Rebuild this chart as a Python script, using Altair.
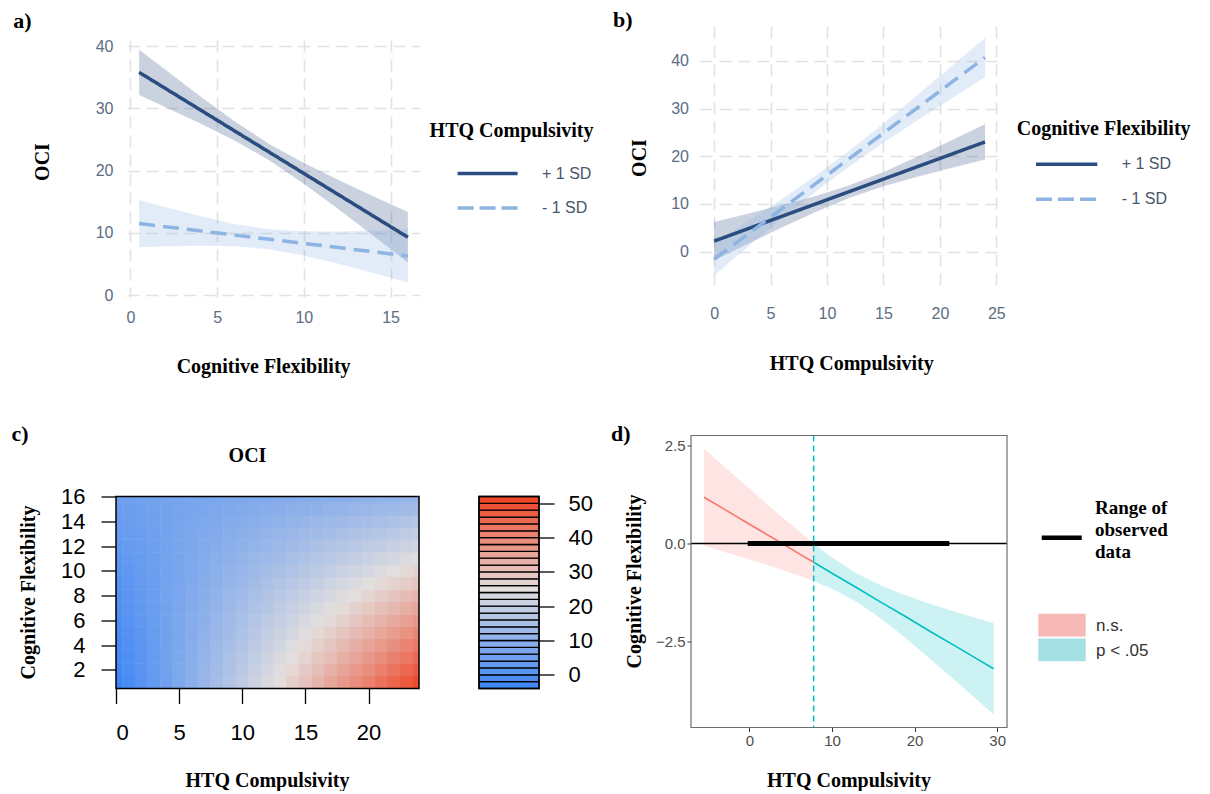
import altair as alt
import pandas as pd

SERIF = "Liberation Serif"
SANS = "Liberation Sans"
DARK = "#2b4c7e"
LIGHT = "#8db4e2"
SLATE = "#5c6c82"

# ---------------- Panel a: OCI vs Cognitive Flexibility ----------------
a_cf = [0.5, 2, 4, 6, 8, 10, 12, 14, 16]
a_hi_fit = [35.80, 33.24, 29.82, 26.40, 22.98, 19.56, 16.14, 12.72, 9.30]
a_hi_upper = [39.45, 36.24, 32.02, 27.95, 24.28, 21.22, 18.49, 15.89, 13.34]
a_hi_lower = [32.15, 30.24, 27.62, 24.85, 21.68, 17.90, 13.79, 9.55, 5.26]
a_lo_fit = [11.50, 11.00, 10.33, 9.66, 8.98, 8.31, 7.64, 6.97, 6.30]
a_lo_upper = [15.29, 14.16, 12.71, 11.45, 10.59, 10.25, 10.24, 10.38, 10.58]
a_lo_lower = [7.71, 7.84, 7.95, 7.87, 7.37, 6.37, 5.04, 3.56, 2.02]
a_xticks = [0, 5, 10, 15]
a_yticks = [0, 10, 20, 30, 40]

# ---------------- Panel b: OCI vs HTQ Compulsivity ----------------
b_htq = [0, 3, 6, 9, 12, 15, 18, 21, 24]
b_hi_fit = [2.20, 4.80, 7.40, 10.00, 12.60, 15.20, 17.80, 20.40, 23.00]
b_hi_upper = [6.20, 7.96, 9.76, 11.68, 13.91, 16.70, 19.90, 23.27, 26.70]
b_hi_lower = [-1.80, 1.64, 5.04, 8.32, 11.29, 13.70, 15.70, 17.53, 19.30]
b_lo_fit = [-1.60, 3.69, 8.98, 14.26, 19.55, 24.84, 30.13, 35.41, 40.70]
b_lo_upper = [1.80, 6.37, 11.04, 15.92, 21.20, 26.88, 32.79, 38.79, 44.85]
b_lo_lower = [-5.00, 1.01, 6.92, 12.60, 17.90, 22.80, 27.47, 32.03, 36.55]
b_xticks = [0, 5, 10, 15, 20, 25]
b_yticks = [0, 10, 20, 30, 40]

groups = ["+ 1 SD", "- 1 SD"]

# ---------------- Panel c: OCI surface ----------------
c_htq = [0, 1, 2, 3, 4, 5, 6, 7, 8, 9, 10, 11, 12, 13, 14, 15, 16, 17, 18, 19, 20, 21, 22, 23, 24]
c_cf = [1, 2, 3, 4, 5, 6, 7, 8, 9, 10, 11, 12, 13, 14, 15, 16]
c_oci = [
    [-3.6, -1.4, 0.9, 3.1, 5.3, 7.6, 9.8, 12.0, 14.3, 16.5, 18.7, 21.0, 23.2, 25.4, 27.7, 29.9, 32.1, 34.4, 36.6, 38.8, 41.1, 43.3, 45.5, 47.7, 50.0],
    [-3.0, -0.9, 1.2, 3.3, 5.4, 7.5, 9.6, 11.7, 13.8, 15.9, 18.0, 20.1, 22.2, 24.3, 26.4, 28.5, 30.6, 32.7, 34.8, 36.9, 39.0, 41.1, 43.2, 45.3, 47.4],
    [-2.5, -0.5, 1.5, 3.4, 5.4, 7.4, 9.3, 11.3, 13.3, 15.3, 17.2, 19.2, 21.2, 23.2, 25.1, 27.1, 29.1, 31.0, 33.0, 35.0, 37.0, 38.9, 40.9, 42.9, 44.8],
    [-1.9, -0.1, 1.8, 3.6, 5.4, 7.3, 9.1, 11.0, 12.8, 14.6, 16.5, 18.3, 20.2, 22.0, 23.9, 25.7, 27.5, 29.4, 31.2, 33.1, 34.9, 36.8, 38.6, 40.4, 42.3],
    [-1.4, 0.3, 2.0, 3.8, 5.5, 7.2, 8.9, 10.6, 12.3, 14.0, 15.7, 17.5, 19.2, 20.9, 22.6, 24.3, 26.0, 27.7, 29.4, 31.1, 32.9, 34.6, 36.3, 38.0, 39.7],
    [-0.8, 0.8, 2.3, 3.9, 5.5, 7.1, 8.7, 10.2, 11.8, 13.4, 15.0, 16.6, 18.2, 19.7, 21.3, 22.9, 24.5, 26.1, 27.6, 29.2, 30.8, 32.4, 34.0, 35.6, 37.1],
    [-0.3, 1.2, 2.6, 4.1, 5.5, 7.0, 8.4, 9.9, 11.3, 12.8, 14.2, 15.7, 17.1, 18.6, 20.1, 21.5, 23.0, 24.4, 25.9, 27.3, 28.8, 30.2, 31.7, 33.1, 34.6],
    [0.3, 1.6, 2.9, 4.2, 5.6, 6.9, 8.2, 9.5, 10.9, 12.2, 13.5, 14.8, 16.1, 17.5, 18.8, 20.1, 21.4, 22.8, 24.1, 25.4, 26.7, 28.0, 29.4, 30.7, 32.0],
    [0.8, 2.0, 3.2, 4.4, 5.6, 6.8, 8.0, 9.2, 10.4, 11.6, 12.7, 13.9, 15.1, 16.3, 17.5, 18.7, 19.9, 21.1, 22.3, 23.5, 24.7, 25.9, 27.1, 28.2, 29.4],
    [1.4, 2.4, 3.5, 4.6, 5.6, 6.7, 7.8, 8.8, 9.9, 10.9, 12.0, 13.1, 14.1, 15.2, 16.2, 17.3, 18.4, 19.4, 20.5, 21.6, 22.6, 23.7, 24.7, 25.8, 26.9],
    [1.9, 2.9, 3.8, 4.7, 5.7, 6.6, 7.5, 8.5, 9.4, 10.3, 11.3, 12.2, 13.1, 14.0, 15.0, 15.9, 16.8, 17.8, 18.7, 19.6, 20.6, 21.5, 22.4, 23.4, 24.3],
    [2.5, 3.3, 4.1, 4.9, 5.7, 6.5, 7.3, 8.1, 8.9, 9.7, 10.5, 11.3, 12.1, 12.9, 13.7, 14.5, 15.3, 16.1, 16.9, 17.7, 18.5, 19.3, 20.1, 20.9, 21.7],
    [3.0, 3.7, 4.4, 5.1, 5.7, 6.4, 7.1, 7.7, 8.4, 9.1, 9.8, 10.4, 11.1, 11.8, 12.4, 13.1, 13.8, 14.5, 15.1, 15.8, 16.5, 17.1, 17.8, 18.5, 19.2],
    [3.6, 4.1, 4.7, 5.2, 5.8, 6.3, 6.8, 7.4, 7.9, 8.5, 9.0, 9.6, 10.1, 10.6, 11.2, 11.7, 12.3, 12.8, 13.3, 13.9, 14.4, 15.0, 15.5, 16.1, 16.6],
    [4.1, 4.6, 5.0, 5.4, 5.8, 6.2, 6.6, 7.0, 7.4, 7.8, 8.3, 8.7, 9.1, 9.5, 9.9, 10.3, 10.7, 11.1, 11.6, 12.0, 12.4, 12.8, 13.2, 13.6, 14.0],
    [4.7, 5.0, 5.3, 5.5, 5.8, 6.1, 6.4, 6.7, 6.9, 7.2, 7.5, 7.8, 8.1, 8.4, 8.6, 8.9, 9.2, 9.5, 9.8, 10.1, 10.3, 10.6, 10.9, 11.2, 11.5],
]
c_xticks = [0, 5, 10, 15, 20]
c_yticks = [2, 4, 6, 8, 10, 12, 14, 16]
cb_levels = [-4, -2, 0, 2, 4, 6, 8, 10, 12, 14, 16, 18, 20, 22, 24, 26, 28, 30,
             32, 34, 36, 38, 40, 42, 44, 46, 48, 50]
cb_ticks = [0, 10, 20, 30, 40, 50]

# ---------------- Panel d: Johnson-Neyman plot ----------------
d_ns_x = [-5.5, -3, 0, 3, 6, 7.78]
d_ns_fit = [1.18, 0.87, 0.49, 0.12, -0.26, -0.48]
d_ns_upper = [2.42, 1.95, 1.40, 0.84, 0.31, 0.00]
d_ns_lower = [-0.06, -0.22, -0.41, -0.61, -0.82, -0.96]
d_sig_x = [7.78, 10, 13, 16, 19, 22, 25, 27.5, 29.57]
d_sig_fit = [-0.48, -0.76, -1.13, -1.51, -1.88, -2.26, -2.63, -2.94, -3.20]
d_sig_upper = [0.00, -0.36, -0.77, -1.08, -1.33, -1.55, -1.75, -1.91, -2.04]
d_sig_lower = [-0.96, -1.16, -1.49, -1.93, -2.43, -2.97, -3.52, -3.98, -4.37]
d_obs_range = [-0.2, 24.2]
d_jn_point = 7.78
d_xticks = [0, 10, 20, 30]
d_yticks = [-2.5, 0, 2.5]
d_groups = ["n.s.", "p < .05"]


# ---------------- helpers ----------------
def one():
    return pd.DataFrame({"z": [0]})


def txt(s, x, y, size=20, bold=True, serif=True, angle=0, align="left", color="black"):
    return alt.Chart(pd.DataFrame({"t": [s]})).mark_text(
        align=align, baseline="middle", fontSize=size,
        fontWeight="bold" if bold else "normal",
        font=SERIF if serif else SANS, angle=angle, color=color,
    ).encode(x=alt.value(x), y=alt.value(y), text="t:N")


def hrule(x1, x2, y, color, width, dash=None):
    kw = {"strokeDash": dash} if dash else {}
    return alt.Chart(one()).mark_rule(color=color, strokeWidth=width, **kw).encode(
        x=alt.value(x1), x2=alt.value(x2), y=alt.value(y))


def box(x1, x2, y1, y2, fill=None, stroke=None, sw=0.0):
    kw = {}
    if fill:
        kw["fill"] = fill
    else:
        kw["fillOpacity"] = 0
    if stroke:
        kw["stroke"] = stroke
        kw["strokeWidth"] = sw
    return alt.Chart(one()).mark_rect(**kw).encode(
        x=alt.value(x1), x2=alt.value(x2), y=alt.value(y1), y2=alt.value(y2))


def spacer(w, h):
    return alt.Chart(one()).mark_point(opacity=0, size=1).encode(
        x=alt.value(0), y=alt.value(0)).properties(width=w, height=h)


def band_df(xs, fit, up, lo, grp):
    return pd.DataFrame({"x": xs, "fit": fit, "upper": up, "lower": lo, "group": grp})


def ab_axis(vals, pad):
    return alt.Axis(values=vals, title=None, domain=False, ticks=False, tickSize=0,
                    labelPadding=pad, labelFont=SANS, labelFontSize=16, labelColor=SLATE,
                    grid=True, gridDash=[12, 7], gridColor="#e2e2e2", gridWidth=1.6)


grp_color = alt.Scale(domain=groups, range=[DARK, LIGHT])
grp_dash = alt.Scale(domain=groups, range=[[1, 0], [16, 8]])


def ab_panel(df, xdom, ydom, xvals, yvals, xpad, ypad):
    xs = alt.Scale(domain=xdom, nice=False, zero=False)
    ys = alt.Scale(domain=ydom, nice=False, zero=False)
    bands = alt.Chart(df).mark_area(opacity=0.25).encode(
        x=alt.X("x:Q", scale=xs, axis=ab_axis(xvals, xpad)),
        y=alt.Y("upper:Q", scale=ys, axis=ab_axis(yvals, ypad)),
        y2="lower:Q",
        color=alt.Color("group:N", scale=grp_color, legend=None),
    )
    lines = alt.Chart(df).mark_line(strokeWidth=3.5).encode(
        x=alt.X("x:Q", scale=xs, axis=ab_axis(xvals, xpad)),
        y=alt.Y("fit:Q", scale=ys, axis=ab_axis(yvals, ypad)),
        color=alt.Color("group:N", scale=grp_color, legend=None),
        strokeDash=alt.StrokeDash("group:N", scale=grp_dash, legend=None),
    )
    return bands, lines


# ---------------- panel a ----------------
a_df = pd.concat([
    band_df(a_cf, a_hi_fit, a_hi_upper, a_hi_lower, groups[0]),
    band_df(a_cf, a_lo_fit, a_lo_upper, a_lo_lower, groups[1]),
])
AW, AH = 293, 257
a_bands, a_lines = ab_panel(a_df, [-0.2, 16.7], [-0.3, 41], a_xticks, a_yticks, 12, 14)
panel_a = alt.layer(
    a_bands, a_lines,
    hrule(-118.7, -117.7, -30.1, "white", 0.01),
    txt("a)", -113.7, -19.5, size=22),
    txt("OCI", -84, 122, angle=270, align="center"),
    txt("Cognitive Flexibility", 136.6, 326.9, align="center"),
    txt("HTQ Compulsivity", 302.6, 91.2),
    hrule(330.6, 390.6, 133.6, DARK, 3.5),
    hrule(330.6, 390.6, 167.9, LIGHT, 3.5, dash=[16, 6]),
    txt(groups[0], 415, 133.6, size=16, bold=False, serif=False, color="#4a5568"),
    txt(groups[1], 415, 167.9, size=16, bold=False, serif=False, color="#4a5568"),
).properties(width=AW, height=AH)

# ---------------- panel b ----------------
b_df = pd.concat([
    band_df(b_htq, b_hi_fit, b_hi_upper, b_hi_lower, groups[0]),
    band_df(b_htq, b_lo_fit, b_lo_upper, b_lo_lower, groups[1]),
])
BW, BH = 298, 263.3
b_bands, b_lines = ab_panel(b_df, [-1.25, 25.15], [-7.9, 47.3], b_xticks, b_yticks, 16, 11.5)
panel_b = alt.layer(
    b_bands, b_lines,
    txt("b)", -87, -6.5, size=22),
    txt("OCI", -60, 132, angle=270, align="center"),
    txt("HTQ Compulsivity", 151.7, 338, align="center"),
    txt("Cognitive Flexibility", 316.7, 103.3),
    hrule(336, 397.3, 138.3, DARK, 3.5),
    hrule(336, 397.3, 173.3, LIGHT, 3.5, dash=[16, 6]),
    txt(groups[0], 421.7, 138.3, size=16, bold=False, serif=False, color="#4a5568"),
    txt(groups[1], 421.7, 173.3, size=16, bold=False, serif=False, color="#4a5568"),
).properties(width=BW, height=BH)

# ---------------- panel c ----------------
c_records = []
for i, cf in enumerate(c_cf):
    for j, h in enumerate(c_htq):
        c_records.append({"htq": h, "cf": cf, "oci": c_oci[i][j]})
c_df = pd.DataFrame(c_records)
oci_scale = alt.Scale(domain=[-3, 25, 51], range=["#4187f5", "#e3dfde", "#ee4628"],
                      interpolate="rgb")
CW, CH = 303, 192


def r_axis(vals, pad, orient):
    return alt.Axis(values=vals, title=None, domain=False, grid=False, orient=orient,
                    tickSize=15, tickColor="black", tickWidth=1.3, labelPadding=pad,
                    labelFont=SANS, labelFontSize=22, labelColor="black")


heat = alt.Chart(c_df).transform_calculate(
    x0="datum.htq - 0.5", x1="datum.htq + 0.5",
    y0="datum.cf - 0.5", y1="datum.cf + 0.5",
).mark_rect(clip=True, strokeWidth=0.6).encode(
    x=alt.X("x0:Q", scale=alt.Scale(domain=[0, 24], nice=False, zero=False),
            axis=r_axis(c_xticks, 19, "bottom")),
    x2="x1:Q",
    y=alt.Y("y0:Q", scale=alt.Scale(domain=[0.5, 16], nice=False, zero=False),
            axis=r_axis(c_yticks, 16, "left")),
    y2="y1:Q",
    color=alt.Color("oci:Q", scale=oci_scale, legend=None),
    stroke=alt.Stroke("oci:Q", scale=oci_scale, legend=None),
)
panel_c = alt.layer(
    heat,
    box(0, CW, 0, CH, stroke="black", sw=1.5),
    txt("c)", -104.5, -63, size=22),
    txt("OCI", 131.5, -41, align="center"),
    txt("Cognitive Flexibility", -87.5, 96, angle=270, align="center"),
    txt("HTQ Compulsivity", 151.5, 284, align="center"),
).properties(width=CW, height=CH)

cb_df = pd.DataFrame({"lvl": cb_levels})
cbar_rects = alt.Chart(cb_df).transform_calculate(
    top="datum.lvl + 2", mid="datum.lvl + 1"
).mark_rect(stroke="black", strokeWidth=1.3).encode(
    x=alt.value(0), x2=alt.value(60),
    y=alt.Y("lvl:Q", scale=alt.Scale(domain=[-4, 52], nice=False, zero=False),
            axis=r_axis(cb_ticks, 14, "right")),
    y2="top:Q",
    color=alt.Color("mid:Q", scale=oci_scale, legend=None),
)
panel_cbar = alt.layer(cbar_rects, box(0, 60, 0, CH, stroke="black", sw=1.5)).properties(
    width=60, height=CH)

# ---------------- panel d ----------------
d_df = pd.concat([
    band_df(d_ns_x, d_ns_fit, d_ns_upper, d_ns_lower, d_groups[0]),
    band_df(d_sig_x, d_sig_fit, d_sig_upper, d_sig_lower, d_groups[1]),
])
DW, DH = 316, 292
d_xs = alt.Scale(domain=[-7.07, 31.19], nice=False, zero=False)
d_ys = alt.Scale(domain=[-4.70, 2.756], nice=False, zero=False)
d_col = alt.Scale(domain=d_groups, range=["#F8766D", "#00BFC4"])


def gg_axis(vals, fmt=None):
    kw = {"format": fmt} if fmt else {}
    return alt.Axis(values=vals, title=None, domain=False, grid=False, tickSize=4,
                    tickColor="#333333", tickWidth=1, labelPadding=2, labelFont=SANS,
                    labelFontSize=15, labelColor="#4d4d4d", **kw)


d_x = alt.X("x:Q", scale=d_xs, axis=gg_axis(d_xticks))
d_bands = alt.Chart(d_df).mark_area(opacity=0.2).encode(
    x=d_x, y=alt.Y("upper:Q", scale=d_ys, axis=gg_axis(d_yticks, ".1f")), y2="lower:Q",
    color=alt.Color("group:N", scale=d_col, legend=None))
d_lines = alt.Chart(d_df).mark_line(strokeWidth=1.6).encode(
    x=d_x, y=alt.Y("fit:Q", scale=d_ys, axis=gg_axis(d_yticks, ".1f")),
    color=alt.Color("group:N", scale=d_col, legend=None))
d_zero = alt.Chart(pd.DataFrame({"y": [0]})).mark_rule(color="black", strokeWidth=1.5).encode(
    y=alt.Y("y:Q", scale=d_ys))
d_obs = alt.Chart(pd.DataFrame({"lo": [d_obs_range[0]], "hi": [d_obs_range[1]], "y": [0]})).mark_rule(
    color="black", strokeWidth=5).encode(
    x=alt.X("lo:Q", scale=d_xs), x2="hi:Q", y=alt.Y("y:Q", scale=d_ys))
d_jn = alt.Chart(pd.DataFrame({"x": [d_jn_point]})).mark_rule(
    color="#00BFC4", strokeWidth=1.5, strokeDash=[6, 4]).encode(x=alt.X("x:Q", scale=d_xs))
panel_d = alt.layer(
    d_bands, d_lines, d_zero, d_obs, d_jn,
    box(0, DW, 0, DH, stroke="#6e6e6e", sw=1.2),
    txt("d)", -80, -2, size=22),
    txt("Cognitive Flexibility", -56, 146, angle=270, align="center"),
    txt("HTQ Compulsivity", 158, 345, align="center"),
    hrule(350.7, 390.7, 102.3, "black", 4.5),
    txt("Range of", 404, 72, size=19),
    txt("observed", 404, 94, size=19),
    txt("data", 404, 116, size=19),
    box(347.3, 394.7, 178.3, 201, fill="#f7b9b5"),
    box(347.3, 394.7, 203, 225.7, fill="#a4e0e2"),
    txt(d_groups[0], 405, 190.7, size=17, bold=False, serif=False, color="#333333"),
    txt(d_groups[1], 405, 215.7, size=17, bold=False, serif=False, color="#333333"),
).properties(width=DW, height=DH)

# ---------------- layout ----------------
# With flush bounds, nested concat groups take no room, so offsets come from spacing.
col_a = alt.vconcat(spacer(1, 13.1), panel_a, spacing=0, bounds="flush")
row1_inner = alt.hconcat(col_a, panel_b, spacing=573, bounds="flush")
row1 = alt.hconcat(spacer(10.2, 1), row1_inner, spacing=0, bounds="flush")
c_pair = alt.hconcat(panel_c, panel_cbar, spacing=60, bounds="flush")
c_group = alt.vconcat(spacer(1, 61), c_pair, spacing=0, bounds="flush")
row2 = alt.hconcat(c_group, panel_d, spacing=575, bounds="flush")

chart = alt.vconcat(row1, row2, spacing=409.5, bounds="flush").properties(
    padding=0, background="white"
).configure_view(strokeWidth=0)

chart.save("out.html", embed_options={"renderer": "svg", "actions": False})
